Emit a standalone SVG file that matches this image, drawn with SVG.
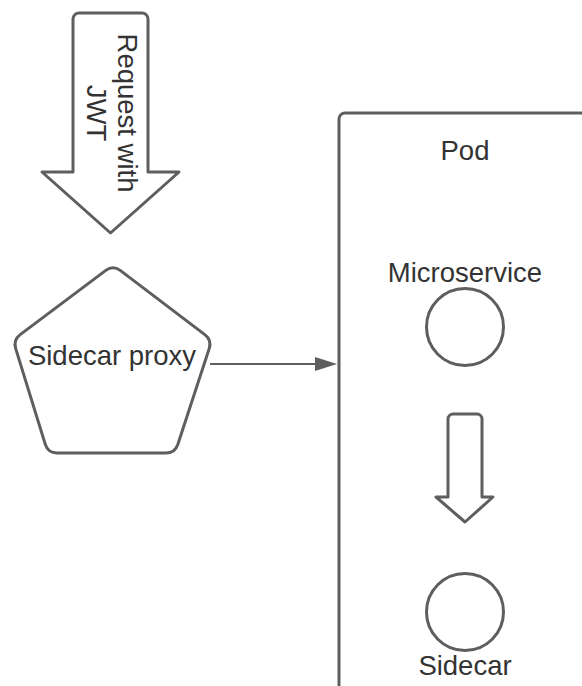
<svg xmlns="http://www.w3.org/2000/svg" width="582" height="686" viewBox="0 0 582 686">
<style>
.s{fill:#fff;stroke:#5e5e5e;stroke-width:3;stroke-linejoin:round}
.t{font-family:"Liberation Sans",Arial,sans-serif;font-size:27.5px;fill:#333;text-anchor:middle}
.c{stroke:#5e5e5e;stroke-width:2;fill:none}
</style>
<rect width="582" height="686" fill="#fff"/>
<g id="pod">
<rect class="s" x="339" y="113" width="300" height="620" rx="6"/>
<text class="t" x="465" y="160">Pod</text>
</g>
<g id="request-arrow">
<path class="s" d="M79,13 L142,13 A6,6 0 0 1 148,19 L148,172 L179,172 L110.5,233 L42,172 L73,172 L73,19 A6,6 0 0 1 79,13 Z"/>
<g transform="translate(112,113) rotate(90)">
<text class="t" x="0" y="-6">Request with</text>
<text class="t" x="0" y="25">JWT</text>
</g>
</g>
<g id="sidecar-proxy">
<path class="s" d="M105.8,270.4 Q113,265 120.2,270.4 L204.8,334.6 Q212,340 209.2,348.6 L177.8,444.5 Q175,453 166,453 L57,453 Q48,453 45.3,444.4 L15.7,348.6 Q13,340 20.2,334.6 Z"/>
<text class="t" x="112" y="365">Sidecar proxy</text>
</g>
<g id="microservice">
<text class="t" x="465" y="282">Microservice</text>
<circle class="s" cx="465" cy="327" r="38.5"/>
</g>
<g id="inner-arrow">
<path class="s" d="M453,414 L477,414 A5,5 0 0 1 482,419 L482,497 L493,497 L465,522 L436,497 L448,497 L448,419 A5,5 0 0 1 453,414 Z"/>
</g>
<g id="sidecar">
<circle class="s" cx="465" cy="612" r="38.5"/>
<text class="t" x="465" y="675">Sidecar</text>
</g>
<g id="connectors">
<line class="c" x1="210" y1="364" x2="317" y2="364"/>
<polygon points="315,357 337,364 315,371" fill="#5e5e5e"/>
</g>
</svg>
